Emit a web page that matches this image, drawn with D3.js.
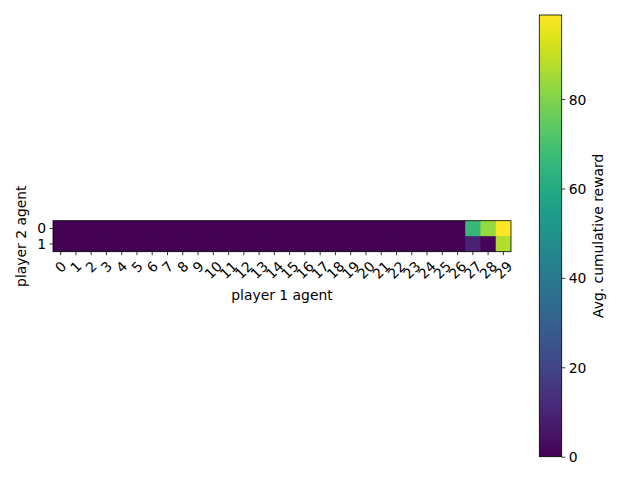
<!DOCTYPE html>
<html><head><meta charset="utf-8">
<script src="https://cdn.jsdelivr.net/npm/d3@7"></script>
<style>body{margin:0;background:#fff}svg{display:block}text{font-family:"DejaVu Sans",sans-serif;font-size:13.9px;fill:#000}</style>
</head><body>
<script>
const cols = d3.range(30).map(String);
const rows = ["0", "1"];
const row0 = [0,0,0,0,0,0,0,0,0,0,0,0,0,0,0,0,0,0,0,0,0,0,0,0,0,0,0,66,83,98.8];
const row1 = [0,0,0,0,0,0,0,0,0,0,0,0,0,0,0,0,0,0,0,0,0,0,0,0,0,0,0,9,1,87];
const values = [row0, row1];
const cbTicks = [0, 20, 40, 60, 80];
const xTitle = "player 1 agent", yTitle = "player 2 agent", cbTitle = "Avg. cumulative reward";

const W = 640, H = 480;
const svg = d3.select("body").append("svg").attr("width", W).attr("height", H);
const vmin = 0, vmax = d3.max(values.flat());
const color = d3.scaleSequential(d3.interpolateViridis).domain([vmin, vmax]);

const L = 53, R = 511, T = 220.7, B = 251.7;
const x = d3.scaleBand().domain(cols).range([L, R]);
const y = d3.scaleBand().domain(rows).range([T, B]);

const cells = [];
rows.forEach((r, i) => cols.forEach((c, j) => cells.push({r, c, v: values[i][j], last: j === cols.length - 1, bottom: i === rows.length - 1})));
svg.append("g").selectAll("rect").data(cells).join("rect")
  .attr("x", d => x(d.c)).attr("y", d => y(d.r))
  .attr("width", d => x.bandwidth() + (d.last ? 0 : 1.2))
  .attr("height", d => y.bandwidth() + (d.bottom ? 0 : 1.2))
  .attr("fill", d => color(d.v));
svg.append("rect").attr("x", L).attr("y", T).attr("width", R - L).attr("height", B - T)
  .attr("fill", "none").attr("stroke", "#000").attr("stroke-width", 0.8);

// x axis
const xa = svg.append("g").attr("transform", `translate(0,${B})`)
  .call(d3.axisBottom(x).tickSize(3.5).tickPadding(3.5));
xa.select(".domain").remove();
xa.selectAll(".tick line").attr("stroke", "#000").attr("stroke-width", 0.8);
xa.selectAll(".tick text").each(function() {
  const t = d3.select(this);
  t.attr("font-size", null).attr("font-family", null).attr("fill", "#000");
  const w = this.getComputedTextLength();
  const h = 13.9 * 1.0;
  const bh = (w + h) * Math.SQRT1_2;
  const cy = 3.5 + 3.5 + bh / 2;
  t.attr("y", 0).attr("dy", null).attr("text-anchor", "middle").attr("dominant-baseline", "central")
   .attr("transform", `translate(0,${cy}) rotate(-45)`);
});
xa.attr("font-size", null).attr("font-family", null);

// y axis
const ya = svg.append("g").attr("transform", `translate(${L},0)`)
  .call(d3.axisLeft(y).tickSize(3.5).tickPadding(3.5));
ya.select(".domain").remove();
ya.attr("font-size", null).attr("font-family", null);
ya.selectAll(".tick line").attr("stroke", "#000").attr("stroke-width", 0.8);
ya.selectAll(".tick text").attr("fill", "#000").attr("dy", null).attr("dominant-baseline", "central");

svg.append("text").attr("x", (L + R) / 2).attr("y", 300).attr("text-anchor", "middle").text(xTitle);
svg.append("text").attr("transform", `translate(26,${(T + B) / 2}) rotate(-90)`).attr("text-anchor", "middle").text(yTitle);

// colorbar
const cL = 539.3, cR = 561.7, cT = 15, cB = 456.7;
const grad = svg.append("defs").append("linearGradient").attr("id", "vir")
  .attr("x1", 0).attr("y1", 1).attr("x2", 0).attr("y2", 0);
d3.range(0, 1.0001, 0.05).forEach(t => grad.append("stop").attr("offset", t).attr("stop-color", d3.interpolateViridis(t)));
svg.append("rect").attr("x", cL).attr("y", cT).attr("width", cR - cL).attr("height", cB - cT)
  .attr("fill", "url(#vir)").attr("stroke", "#000").attr("stroke-width", 0.8);
const cy = d3.scaleLinear().domain([vmin, vmax]).range([cB, cT]);
const ca = svg.append("g").attr("transform", `translate(${cR},0)`)
  .call(d3.axisRight(cy).tickValues(cbTicks).tickSize(3.5).tickPadding(3.5));
ca.select(".domain").remove();
ca.attr("font-size", null).attr("font-family", null);
ca.selectAll(".tick line").attr("stroke", "#000").attr("stroke-width", 0.8);
ca.selectAll(".tick text").attr("fill", "#000").attr("dy", null).attr("dominant-baseline", "central");
svg.append("text").attr("transform", `translate(603,${(cT + cB) / 2}) rotate(-90)`).attr("text-anchor", "middle").text(cbTitle);
</script>
</body></html>
